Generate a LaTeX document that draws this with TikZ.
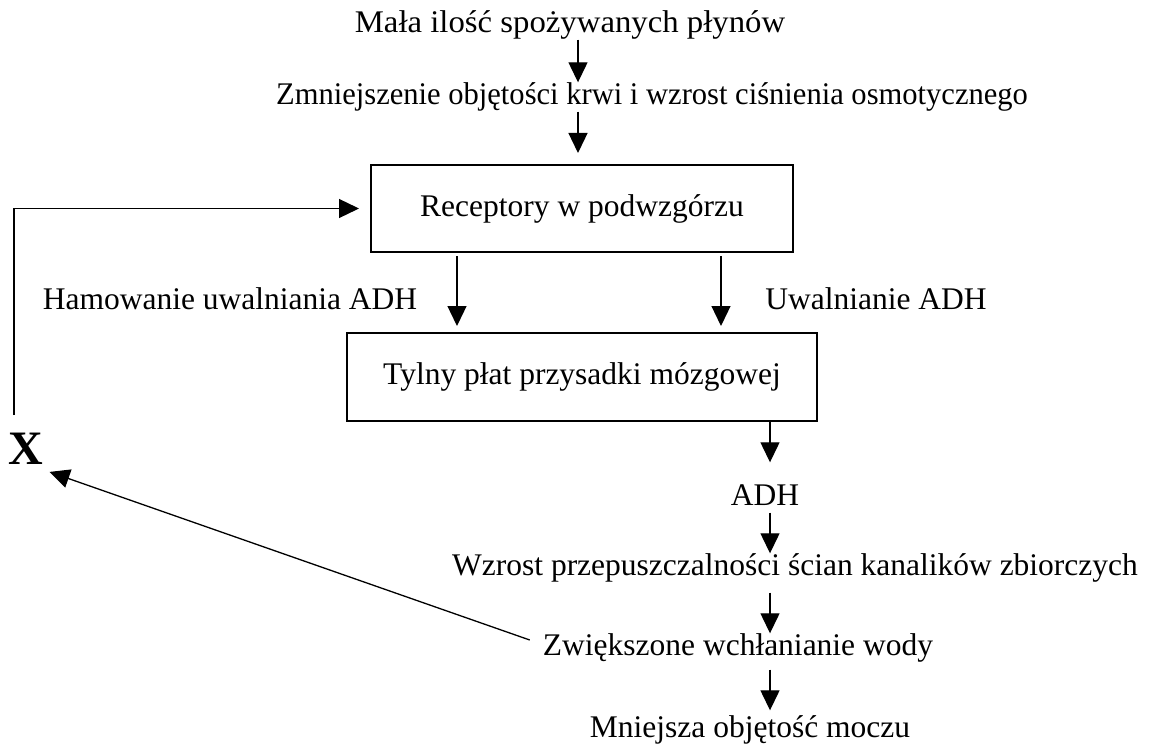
\documentclass[tikz,border=0pt]{standalone}
\usepackage{graphicx}
\usepackage{fontspec}
\setmainfont{Liberation Serif}
\usetikzlibrary{arrows.meta,calc}
\newcommand{\hsc}[2]{\scalebox{#1}[1]{#2}}
\begin{document}
\begin{tikzpicture}[x=1pt,y=-1pt,
  txt/.style={inner sep=0pt, text height=22pt, text depth=7pt, font=\fontsize{31.5}{38}\selectfont},
  boxn/.style={draw, line width=2pt, inner sep=0pt, font=\fontsize{31.5}{38}\selectfont},
  arr/.style={line width=1.3pt, -{Triangle[length=20pt,width=19pt]}}]
\useasboundingbox (0,0) rectangle (1149,749);
\node[txt] (n1) at (570,25) {\hsc{1.04}{Mała ilość spożywanych płynów}};
\node[txt] (n2) at (652,97) {\hsc{0.97}{Zmniejszenie objętości krwi i wzrost ciśnienia osmotycznego}};
\node[boxn, minimum width=422pt, minimum height=87pt] (b1) at (582,208.5) {Receptory w podwzgórzu};
\node[txt] (l1) at (230,302) {Hamowanie uwalniania ADH};
\node[txt] (l2) at (876,302) {Uwalnianie ADH};
\node[boxn, minimum width=470pt, minimum height=88pt] (b2) at (582,377) {Tylny płat przysadki mózgowej};
\node[txt] (adh) at (765,498) {ADH};
\node[txt] (wz) at (795,568) {Wzrost przepuszczalności ścian kanalików zbiorczych};
\node[txt] (zw) at (738,648) {Zwiększone wchłanianie wody};
\node[txt] (mn) at (750,730) {Mniejsza objętość moczu};
\node[inner sep=0pt, font=\fontsize{48}{56}\selectfont\bfseries] (x) at (26,449) {X};
\coordinate (c1) at (578,0);
\coordinate (cl) at (457,0);
\coordinate (cr) at (721,0);
\coordinate (c2) at (770,0);
\coordinate (xt) at ($(x.north)+(-12,-18)$);
\draw[arr] (n1.south -| c1) -- (n2.north -| c1);
\draw[arr, shorten >=11pt] (n2.south -| c1) -- (b1.north -| c1);
\draw[arr, shorten <=3pt, shorten >=6pt] (b1.south -| cl) -- (b2.north -| cl);
\draw[arr, shorten <=3pt, shorten >=6pt] (b1.south -| cr) -- (b2.north -| cr);
\draw[arr, shorten >=21pt] (b2.south -| c2) -- (adh.north -| c2);
\draw[arr] (adh.south -| c2) -- (wz.north -| c2);
\draw[arr, shorten <=10pt] (wz.south -| c2) -- (zw.north -| c2);
\draw[arr, shorten <=7pt, shorten >=5pt] (zw.south -| c2) -- (mn.north -| c2);
\draw[arr, shorten >=11pt] (xt) |- (b1.west);
\draw[arr] ($(zw.west)+(-13,-8)$) -- ($(x.south east)+(6,7)$);
\end{tikzpicture}
\end{document}
